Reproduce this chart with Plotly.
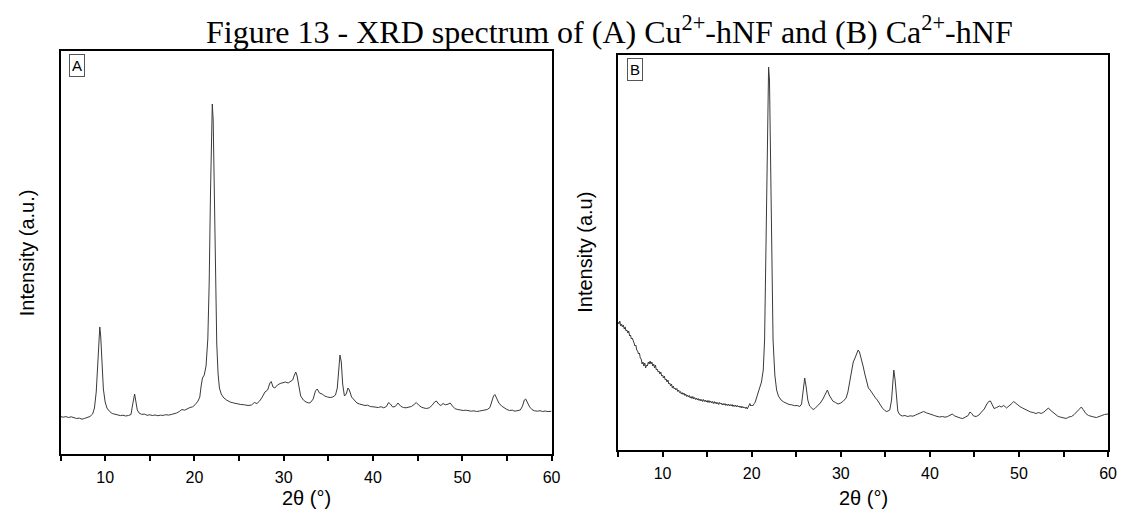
import plotly.graph_objects as go

W, H = 1126, 511

# ---- Data (2θ in degrees, intensity in arbitrary units) ----
a_theta = [5.0,5.3,5.6,5.9,6.2,6.5,6.8,7.1,7.4,7.7,8.0,8.3,8.6,8.8,9.0,9.15,9.3,9.4,9.5,9.65,9.8,10.0,10.2,10.5,10.8,11.1,11.4,11.7,12.0,12.3,12.6,12.9,13.05,13.2,13.3,13.45,13.6,13.8,14.1,14.4,14.7,15.0,15.3,15.6,15.9,16.2,16.5,16.8,17.1,17.4,17.7,18.0,18.3,18.6,18.9,19.2,19.5,19.8,20.1,20.4,20.6,20.75,20.9,21.1,21.3,21.5,21.65,21.8,21.9,22.0,22.1,22.2,22.35,22.5,22.65,22.8,23.0,23.3,23.6,24.0,24.4,24.8,25.2,25.6,26.0,26.4,26.7,27.0,27.3,27.6,27.9,28.2,28.45,28.6,28.8,29.0,29.3,29.6,29.9,30.2,30.5,30.8,31.0,31.2,31.35,31.5,31.7,31.9,32.2,32.5,32.8,33.0,33.3,33.55,33.75,34.0,34.3,34.6,34.9,35.2,35.5,35.8,36.0,36.15,36.3,36.45,36.6,36.8,37.0,37.2,37.35,37.6,37.9,38.2,38.5,38.8,39.1,39.4,39.7,40.0,40.3,40.6,40.9,41.2,41.5,41.75,41.95,42.2,42.5,42.8,43.1,43.4,43.7,44.0,44.3,44.6,44.85,45.1,45.4,45.7,46.0,46.3,46.6,46.9,47.1,47.35,47.6,47.85,48.1,48.4,48.65,48.9,49.2,49.5,49.8,50.1,50.4,50.7,51.0,51.3,51.6,51.9,52.2,52.5,52.8,53.1,53.3,53.5,53.65,53.85,54.1,54.4,54.7,55.0,55.3,55.6,55.9,56.2,56.5,56.75,56.95,57.1,57.3,57.55,57.8,58.1,58.4,58.7,59.0,59.3,59.6,60.0]
a_intensity = [37.5,36.8,37.4,36.5,37.2,36.3,35.5,35.9,34.8,35.6,36.2,37.5,40,46,62,90,122,127,118,90,65,52,46,42.5,40.5,39.8,39.2,38.4,38.8,38.0,38.5,39.5,48,58,60,52,44,41,39.6,39.9,38.7,39.2,38.5,39.0,38.3,38.8,38.6,39.3,38.9,39.5,40.2,41.0,42.5,44.5,43.8,45.5,46.5,47.2,49.5,53,57,68,76,79,88,115,170,262,320,350,334,270,170,110,80,66,60,56,54,52,51,50,49.5,49.2,48.5,49,51.5,50.5,53,57,62,64,71,72.5,67,66,69,70.5,71,72,71,72.5,74,79,82,78,68,58,54,52,51,51.5,55,63,65,61,60,58,57,56.5,57,59,66,80,99,92,70,58,60,66,64,57,54,51,50,49.5,48.5,48.8,47.5,47.2,46.8,46.5,47.3,46.2,47.5,51.5,50,47,47.5,51,47.8,46.5,46.2,46.6,47.5,49.5,51.5,49,47,46,45.5,46.2,48.5,52,53,50,48.5,50.5,49.2,49.8,51,48,45.2,44.5,44.0,43.5,43.8,43.1,42.8,43.2,42.5,42.9,43.3,43.8,44.5,46.5,52,58,59.5,56,51,48,46,44.5,43.5,43.8,42.8,43.2,44,48,54,55,51,47,44.5,43.2,42.8,43.3,42.5,43.0,42.4,42.8]

b_theta = [5.0,5.1,5.2,5.3,5.4,5.5,5.6,5.7,5.8,5.9,6.0,6.1,6.2,6.3,6.4,6.5,6.6,6.7,6.8,6.9,7.0,7.1,7.2,7.3,7.4,7.5,7.6,7.7,7.8,7.9,8.0,8.1,8.2,8.3,8.4,8.5,8.6,8.7,8.8,8.9,9.0,9.1,9.2,9.3,9.4,9.5,9.6,9.7,9.8,9.9,10.0,10.1,10.2,10.3,10.4,10.5,10.6,10.7,10.8,10.9,11.0,11.1,11.2,11.3,11.4,11.5,11.6,11.7,11.8,11.9,12.0,12.1,12.2,12.3,12.4,12.5,12.6,12.7,12.8,12.9,13.0,13.1,13.2,13.3,13.4,13.5,13.6,13.7,13.8,13.9,14.0,14.1,14.2,14.3,14.4,14.5,14.6,14.7,14.8,14.9,15.0,15.1,15.2,15.3,15.4,15.5,15.6,15.7,15.8,15.9,16.0,16.1,16.2,16.3,16.4,16.5,16.6,16.7,16.8,16.9,17.0,17.1,17.2,17.3,17.4,17.5,17.6,17.7,17.8,17.9,18.0,18.1,18.2,18.3,18.4,18.5,18.6,18.7,18.8,18.9,19.0,19.1,19.2,19.3,19.4,19.5,19.6,19.7,19.8,19.9,20.0,20.1,20.2,20.3,20.4,20.7,20.9,21.1,21.3,21.45,21.6,21.75,21.9,22.0,22.1,22.25,22.4,22.6,22.8,23.0,23.3,23.6,23.9,24.2,24.5,24.8,25.1,25.4,25.6,25.8,25.95,26.1,26.3,26.5,26.7,26.9,27.1,27.4,27.7,28.0,28.3,28.5,28.7,28.9,29.1,29.4,29.7,30.0,30.3,30.6,30.8,31.0,31.2,31.4,31.6,31.8,31.95,32.1,32.3,32.5,32.7,32.9,33.1,33.3,33.5,33.7,33.9,34.1,34.3,34.5,34.7,34.9,35.1,35.3,35.5,35.7,35.85,35.95,36.1,36.25,36.4,36.6,36.9,37.2,37.5,37.8,38.1,38.4,38.7,39.0,39.3,39.6,39.9,40.2,40.5,40.8,41.1,41.4,41.7,42.0,42.3,42.5,42.8,43.1,43.4,43.7,44.0,44.3,44.5,44.7,44.9,45.2,45.5,45.8,46.1,46.4,46.6,46.8,47.0,47.2,47.5,47.8,48.0,48.3,48.6,48.9,49.2,49.4,49.6,49.8,50.1,50.4,50.7,51.0,51.3,51.6,51.9,52.2,52.5,52.8,53.1,53.3,53.5,53.8,54.1,54.4,54.7,55.0,55.3,55.6,55.9,56.2,56.5,56.8,57.0,57.2,57.5,57.8,58.1,58.4,58.7,59.0,59.3,59.6,60.0]
b_intensity = [128,126,129,124,126,123,125,121,123,119,120,117,119,114,115,111,112,108,107,104,105,100,99,96,97,92,91,86,88,84,87,82,85,84,88,86,89,86,88,84,86,82,85,80,81,78,79,76,78,74,75,72,74,70,71,68,70,66,67,64,66,62,64,61,62,60,61.5,58.5,60,57.5,58.5,56,57.5,55.5,57,54.5,56,53.5,55,53,54.5,52,53.5,51.5,53.5,51,52.5,50.5,52,50,51.5,49.5,51,49,50.5,48.5,50.5,48.5,50,48,49.5,47.5,49.5,47.5,49,47,48.5,46.5,48.5,46.5,48,46,47.5,45.5,47.5,46,47,45,46.5,45,46.5,44.5,46,44.5,46,44,45.5,44,45.5,43.5,45,43.5,45,43,44.5,43,44,42.5,44,42,43.5,42,43,41.5,43,41,43,44.5,46.5,44,45,44,46,46.5,48,57,64,68,80,110,200,320,383,370,300,180,110,75,60,54,50,48,46.5,45.5,45.2,44.3,44.5,43.5,46,62,72,64,50,44,42,40.5,41.5,44,47,51,56,60,55,52,49,47.5,46,47,49,52,58,68,80,88,92,96,100,98,92,84,76,68,62,60,57,54,52,50,47,45,41.5,40,38.5,39,40,50,70,80,70,50,39,35.5,34,34.5,33.5,34.2,33.8,35,36.2,37,38.5,37.2,36.5,35.3,34.5,33.6,33,33.5,32.8,33.5,35,36,34,32.8,32,31.5,33,34.5,38,36.5,34,33.5,35,38,41,46,48.5,49,45,41.5,42.5,44,43,44.5,42,44,46.5,48.5,47,45,43.5,42,40.5,39,38,37.5,36.5,37.5,36.5,38,40.5,42,40,37.5,35.5,33.5,32.8,32,31.5,33,33.5,35.5,38.5,41.5,43,40.5,36.5,34.5,33.5,33,32.5,33.2,34.5,35.5,36]

x_tickvals = [5, 10, 15, 20, 25, 30, 35, 40, 45, 50, 55, 60]
x_ticktext = ["", "10", "", "20", "", "30", "", "40", "", "50", "", "60"]

title_text = "Figure 13 - XRD spectrum of (A) Cu<sup>2+</sup>-hNF and (B) Ca<sup>2+</sup>-hNF"

# ---- Layout geometry (pixels) ----
A_box = dict(l=61, r=556, t=51, b=454)
B_box = dict(l=623, r=1117, t=55, b=450)

def px_x(v):
    return v / W

def px_y(v):
    return 1 - v / H

line_col = "#3a3a3a"
fig = go.Figure()
fig.add_trace(go.Scatter(x=a_theta, y=a_intensity, mode="lines",
                         line=dict(color=line_col, width=1), xaxis="x", yaxis="y",
                         showlegend=False))
fig.add_trace(go.Scatter(x=b_theta, y=b_intensity, mode="lines",
                         line=dict(color=line_col, width=1), xaxis="x2", yaxis="y2",
                         showlegend=False))

axis_common = dict(showline=True, mirror=True, linecolor="black", linewidth=1.5,
                   showgrid=False, zeroline=False)
xcommon = dict(axis_common, range=[5, 60], tickvals=x_tickvals, ticktext=x_ticktext,
               ticks="outside", ticklen=5, tickwidth=1.5, tickcolor="black",
               ticklabelstandoff=3,
               tickfont=dict(family="Liberation Sans, Arial", size=16, color="black"))
ycommon = dict(axis_common, showticklabels=False, ticks="")

fig.update_layout(
    width=W, height=H,
    margin=dict(l=0, r=0, t=0, b=0),
    paper_bgcolor="white", plot_bgcolor="white",
    xaxis=dict(xcommon, domain=[px_x(A_box["l"]), px_x(A_box["r"])], anchor="y"),
    yaxis=dict(ycommon, domain=[px_y(A_box["b"]), px_y(A_box["t"])], range=[0, A_box["b"] - A_box["t"]], anchor="x"),
    xaxis2=dict(xcommon, domain=[px_x(B_box["l"]), px_x(B_box["r"])], anchor="y2"),
    yaxis2=dict(ycommon, domain=[px_y(B_box["b"]), px_y(B_box["t"])], range=[0, B_box["b"] - B_box["t"]], anchor="x2"),
)

ann = []
ann.append(dict(text=title_text, x=px_x(614), y=px_y(30), xref="paper", yref="paper",
                xanchor="center", yanchor="middle", showarrow=False,
                font=dict(family="Liberation Serif, Times New Roman", size=32, color="black")))
for lbl, box in (("A", A_box), ("B", B_box)):
    ann.append(dict(text=lbl, x=px_x(box["l"] + 9), y=px_y(box["t"] + 3), xref="paper", yref="paper",
                    xanchor="left", yanchor="top", showarrow=False,
                    bordercolor="#555", borderwidth=1, borderpad=2,
                    font=dict(family="Liberation Sans, Arial", size=15, color="black")))
for text, box, xpos in (("Intensity (a.u.)", A_box, 28), ("Intensity (a.u)", B_box, 590)):
    ann.append(dict(text=text, x=px_x(xpos), y=px_y((box["t"] + box["b"]) / 2), xref="paper", yref="paper",
                    xanchor="center", yanchor="middle", textangle=-90, showarrow=False,
                    font=dict(family="Liberation Sans, Arial", size=20, color="black")))
    ann.append(dict(text="2θ (°)", x=px_x((box["l"] + box["r"]) / 2), y=px_y(498), xref="paper", yref="paper",
                    xanchor="center", yanchor="middle", showarrow=False,
                    font=dict(family="Liberation Sans, Arial", size=20, color="black")))
fig.update_layout(annotations=ann)

fig.write_html("out.html")
